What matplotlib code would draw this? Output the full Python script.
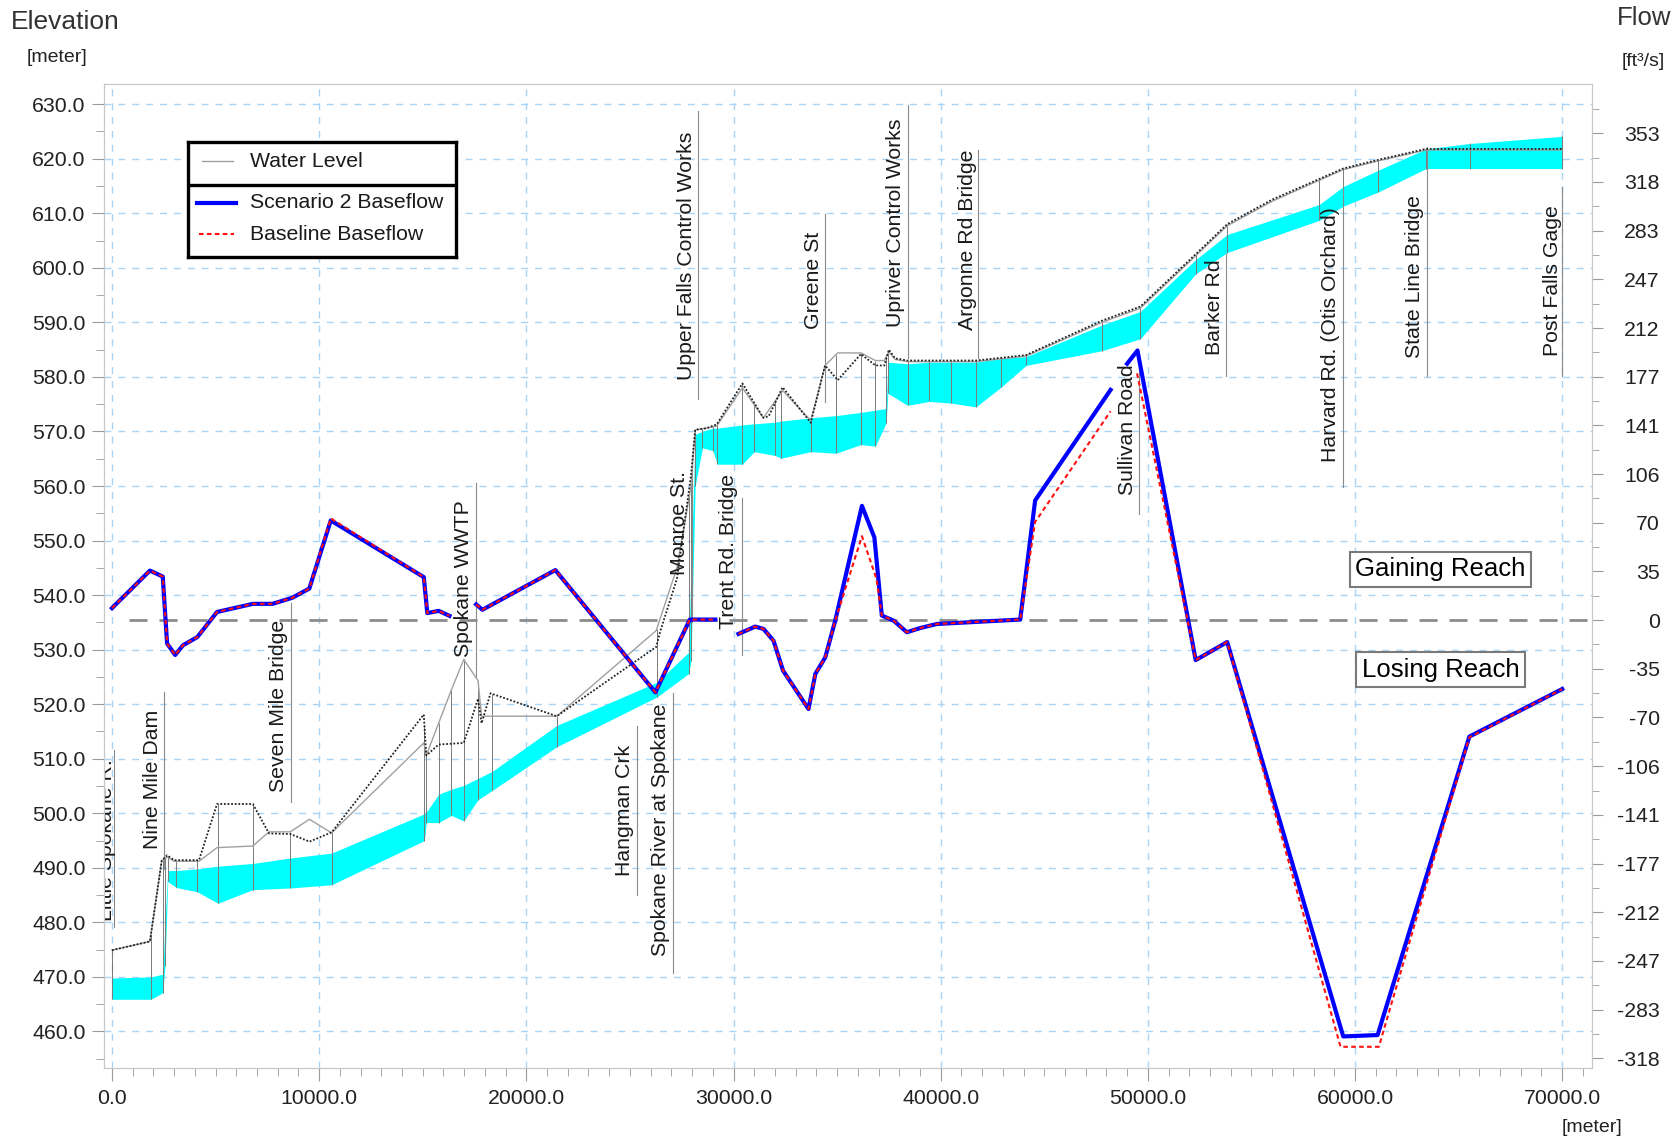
import numpy as np
import matplotlib
matplotlib.use("Agg")
import matplotlib.pyplot as plt
from matplotlib.ticker import MultipleLocator, FixedLocator

plt.rcParams['font.family'] = ['Liberation Sans', 'DejaVu Sans']

# ---- river bed band (cyan) : chainage [m], top / bottom elevation [m]
bed_x = [0, 1880, 2450, 2560, 2690, 3090, 4120, 5110, 6800, 8610, 10600, 15080, 15170,
         15770, 16380, 16980, 17670, 18360, 21470, 26300, 27830, 27950, 28150, 28500,
         29000, 29220, 30430, 31000, 32000, 32300, 33730, 34940, 36150, 36850, 37370,
         37450, 38400, 39450, 40490, 41700, 42910, 44120, 47780, 49640, 52310, 53830,
         58270, 59430, 61120, 63430, 65570, 70000]
bed_top = [469.8, 470.0, 470.5, 480.0, 489.5, 489.5, 489.8, 490.3, 490.8, 491.8, 492.7, 499.9,
           500.2, 503.5, 504.4, 505.1, 506.4, 507.7, 516.1, 524.0, 529.5, 545.0, 569.5, 570.0,
           570.6, 570.6, 571.2, 571.4, 571.7, 571.9, 572.5, 572.9, 573.5, 573.9, 574.2,
           582.7, 582.4, 582.7, 582.7, 582.7, 583.4, 583.7, 589.5, 592.0, 601.5, 606.1,
           611.6, 614.9, 617.9, 621.8, 622.8, 624.1]
bed_bot = [465.9, 465.9, 467.1, 472.0, 487.5, 486.4, 485.6, 483.5, 486.0, 486.3, 486.9, 495.0,
           498.3, 498.3, 499.6, 498.6, 502.5, 504.2, 512.2, 521.3, 525.6, 528.0, 560.0, 567.0,
           566.5, 564.0, 564.0, 566.3, 565.6, 565.1, 566.3, 566.0, 567.6, 567.3, 571.6,
           577.0, 574.8, 575.5, 575.2, 574.5, 578.1, 582.1, 584.8, 587.0, 598.9, 602.8,
           608.7, 611.3, 613.9, 618.2, 618.2, 618.2]

# ---- water level profiles
wl_x = [0, 1830, 2400, 2660, 3000, 4200, 5070, 6800, 7580, 8610, 9530, 10600, 15050, 15170,
        15770, 16980, 17670, 17840, 18270, 21470, 26270, 26460, 27270, 27950, 28150, 28700,
        29190, 30430, 31440, 31700, 32370, 33730, 34420, 35030, 36150, 36850, 37280, 37500,
        37800, 38400, 41700, 44120, 47780, 49640, 52310, 53830, 56000, 59430, 61120, 63430,
        70000]
wl_dotted = [474.9, 476.5, 491.3, 492.3, 491.4, 491.4, 501.7, 501.7, 496.3, 496.2, 494.8, 496.5,
             518.1, 510.6, 512.6, 512.9, 521.0, 516.5, 522.0, 517.8, 530.5, 533.3, 543.0, 562.0,
             570.3, 570.6, 571.3, 578.8, 572.5, 572.8, 578.1, 571.6, 582.1, 579.4, 584.2, 582.1,
             582.1, 585.0, 583.4, 583.0, 583.0, 584.0, 590.3, 592.9, 602.5, 608.0, 612.5, 618.2,
             619.8, 621.8, 621.8]
wl_gray_x = [0, 1830, 2400, 2660, 3000, 4200, 5070, 6800, 7580, 8610, 9530, 10600, 15050, 15170,
             16380, 16980, 17670, 17840, 21470, 26270, 27270, 27950, 28150, 28700, 29190, 30430,
             31440, 32370, 33730, 34420, 35030, 36150, 36850, 37280, 37500, 37800, 38400, 41700,
             44120, 47780, 49640, 52310, 53830, 56000, 59430, 61120, 63430, 70000]
wl_gray = [474.9, 476.5, 491.3, 492.0, 491.2, 491.2, 493.7, 494.0, 496.6, 496.6, 498.9, 496.4,
           512.9, 510.6, 522.6, 528.2, 524.3, 517.8, 517.8, 533.5, 545.0, 560.0, 570.3, 570.6,
           571.0, 578.0, 572.5, 577.5, 572.0, 582.1, 584.4, 584.4, 583.0, 583.0, 584.6, 583.2,
           582.8, 582.8, 583.8, 590.0, 592.6, 602.2, 607.7, 612.2, 618.0, 619.6, 621.6, 621.6]

# ---- baseflow [ft3/s]
s2_x = [0, 1830, 2450, 2660, 3050, 3430, 4120, 5070, 6800, 7750, 8700, 9525, 10560, 15050,
        15220, 15770, 16290, 16900, 17580, 17880, 21400, 26230, 27890, 29120, 29700, 30240,
        31050, 31450, 31930, 32390, 33620, 33950, 34430, 34910, 36200, 36800, 37160, 37730,
        38370, 39020, 39820, 43840, 44560, 48200, 48600, 49000, 49500, 52310, 53830, 59430,
        61090, 65520, 70000]
s2_flow = [8.7, 35.9, 31.6, -17.0, -25.3, -18.2, -12.3, 5.9, 11.8, 11.8, 16.2, 22.9, 72.3, 31.2,
           5.1, 6.7, 3.1, np.nan, 11.4, 7.5, 36.3, -52.4, 0.4, 0.4, np.nan, -10.0,
           -4.7, -6.4, -14.9, -36.6, -64.5, -39.0, -27.0, -0.4, 82.9, 60.0, 3.3, -0.4,
           -8.8, -5.7, -2.8, 0.4, 86.8, 167.0, np.nan, 186.0, 195.6, -29.0, -15.9, -302.0,
           -301.0, -84.5, -50.0]
base_x = [0, 1830, 2450, 2660, 3050, 3430, 4120, 5070, 6800, 7750, 8700, 9525, 10560, 15050,
          15220, 15770, 16290, 16900, 17580, 17880, 21400, 26230, 27890, 29120, 29700, 30240,
          31050, 31450, 31930, 32390, 33620, 33950, 34430, 34910, 36200, 36900, 37160, 37730,
          38370, 39020, 39820, 43840, 44560, 48200, 48800, 49480, 52310, 53830, 59300, 61150,
          65520, 70000]
base_flow = [8.7, 35.9, 31.6, -17.0, -25.3, -18.2, -12.3, 5.9, 11.8, 11.8, 16.2, 22.9, 73.8, 31.2,
             5.1, 6.7, 3.1, np.nan, 11.4, 7.5, 36.3, -52.4, 0.4, 0.4, np.nan, -10.0,
             -4.7, -6.4, -14.9, -36.6, -64.5, -39.0, -27.0, -0.4, 60.9, 30.0, 3.3, -0.4,
             -8.8, -5.7, -2.8, 0.4, 71.2, 151.5, np.nan, 179.0, -29.0, -15.9, -309.5, -309.5,
             -85.0, -50.0]

# ---- landmarks
places = ["Little Spokane R.", "Nine Mile Dam", "Seven Mile Bridge", "Spokane WWTP", "Hangman Crk",
          "Spokane River at Spokane", "Monroe St.", "Upper Falls Control Works", "Trent Rd. Bridge",
          "Greene St", "Upriver Control Works", "Argonne Rd Bridge", "Sullivan Road", "Barker Rd",
          "Harvard Rd. (Otis Orchard)", "State Line Bridge", "Post Falls Gage"]
place_x = [77, 2510, 8640, 17550, 25320, 27060, 27990, 28310, 30390, 34415, 38430, 41800, 49555,
           53790, 59430, 63470, 70000]
place_text_x = [-270, 1960, 8035, 16970, 24755, 26460, 27415, 27745, 29745, 33865, 37830, 41275,
                49020, 53200, 58800, 62860, 69520]
place_text_y = [495.1, 506.3, 519.6, 543.0, 500.5, 497.0, 553.3, 602.2, 548.0, 597.7, 608.2, 605.2,
                570.3, 592.7, 587.8, 598.4, 597.7]
place_top = [511.6, 522.3, 538.5, 560.5, 516.0, 522.0, 563.0, 628.7, 557.8, 609.8, 629.8, 621.6,
             582.8, 602.5, 615.6, 622.1, 614.9]
place_bot = [479.1, 489.8, 502.0, 525.0, 485.0, 470.8, 535.0, 575.9, 529.0, 575.4, 583.5, 583.5,
             554.9, 580.2, 559.8, 580.2, 580.2]

flow_ticks = [-318, -283, -247, -212, -177, -141, -106, -70, -35, 0, 35, 70, 106, 141, 177, 212,
              247, 283, 318, 353]

W, H = 1675, 1138
fig = plt.figure(figsize=(W / 100, H / 100), dpi=100)
ax = fig.add_axes([103.6 / W, 1 - 1068 / H, (1591.5 - 103.6) / W, (1068 - 84) / H])
ax.set_xlim(-405, 71415)
ax.set_ylim(453.3, 633.7)
ax.set_axisbelow(True)
ax.grid(True, which='major', color='#a9d4f6', ls=(0, (5, 5)), lw=1.0)

tick_col = '#9a9a9a'
for s in ax.spines.values():
    s.set_color('#c8c8c8')
ax.xaxis.set_minor_locator(MultipleLocator(1000))
ax.yaxis.set_minor_locator(MultipleLocator(5))
ax.set_xticks(np.arange(0, 70001, 10000))
ax.set_xticklabels([f"{v:.1f}" for v in np.arange(0, 70001, 10000)])
ax.set_yticks(np.arange(460, 631, 10))
ax.set_yticklabels([f"{v:.1f}" for v in np.arange(460, 631, 10)])
ax.tick_params(axis='both', which='major', length=9, color=tick_col, labelsize=15.3,
               labelcolor='#222222', pad=4)
ax.tick_params(axis='both', which='minor', length=6, color=tick_col)
ax.tick_params(axis='x', which='major', pad=6)

# river bed band and section lines
ax.fill_between(bed_x, bed_bot, bed_top, color='#00ffff', lw=0, zorder=2)
wl_hi = np.maximum(np.interp(bed_x, wl_x, wl_dotted), np.interp(bed_x, wl_gray_x, wl_gray))
ax.vlines(bed_x, bed_bot, np.maximum(wl_hi, bed_top), color='#7a7a7a', lw=0.7, zorder=3)

# water levels
ax.plot(wl_gray_x, wl_gray, color='#a0a0a0', lw=1.0, zorder=4)
ax.plot(wl_x, wl_dotted, color='#222222', lw=1.3, ls=(0, (1, 1)), zorder=5)

# landmarks
for name, lx, tx, ty, t0, t1 in zip(places, place_x, place_text_x, place_text_y, place_top, place_bot):
    ax.plot([lx, lx], [t1, t0], color='#8a8a8a', lw=0.8, zorder=3)
    ax.text(tx, ty, name, rotation=90, ha='center', va='center', fontsize=15.3,
            color='#1a1a1a', zorder=6, clip_on=True)

box = dict(boxstyle='square,pad=0.22', fc='white', ec='#7a7a7a', lw=1.5)
ax.text(64124, 544.7, "Gaining Reach", fontsize=18.5, ha='center', va='center', bbox=box, zorder=7)
ax.text(64124, 526.3, "Losing Reach", fontsize=18.5, ha='center', va='center', bbox=box, zorder=7)

# flow axis
ax2 = ax.twinx()
ax2.set_ylim(-324.9, 388.9)
for s in ax2.spines.values():
    s.set_color('#c8c8c8')
ax2.yaxis.set_major_locator(FixedLocator([k * 35.3147 for k in range(-9, 11)]))
ax2.yaxis.set_minor_locator(FixedLocator([(k + 0.5) * 35.3147 for k in range(-10, 11)]))
ax2.set_yticklabels([str(t) for t in flow_ticks])
ax2.tick_params(axis='y', which='major', length=8, color=tick_col, labelsize=15.3,
                labelcolor='#222222', pad=41)
ax2.tick_params(axis='y', which='minor', length=5, color=tick_col)
for lbl in ax2.get_yticklabels():
    lbl.set_horizontalalignment('right')

ax2.plot([800, 71415], [0, 0], color='#8c8c8c', lw=2.0, ls=(0, (6.5, 4.3)), zorder=1)
ax2.plot(s2_x, s2_flow, color='#0000ff', lw=3.0, zorder=3)
ax2.plot(base_x, base_flow, color='#ff1010', lw=1.5, ls=(0, (2.2, 1.6)), zorder=4)

# axis titles
fig.text(10.7 / W, 1 - 22 / H, "Elevation", fontsize=19, ha='left', va='center', color='#333333')
fig.text(57 / W, 1 - 57 / H, "[meter]", fontsize=14, ha='center', va='center', color='#222222')
fig.text(1644 / W, 1 - 18 / H, "Flow", fontsize=18.5, ha='center', va='center', color='#333333')
fig.text(1643 / W, 1 - 62 / H, "[ft³/s]", fontsize=14, ha='center', va='center', color='#222222')
fig.text(1592 / W, 1 - 1128 / H, "[meter]", fontsize=14, ha='center', va='center', color='#222222')

# legend
lx0, ly0, lx1, ly1 = 188, 142, 456, 256.5
lax = fig.add_axes([lx0 / W, 1 - ly1 / H, (lx1 - lx0) / W, (ly1 - ly0) / H])
lax.set_xlim(0, lx1 - lx0)
lax.set_ylim(ly1 - ly0, 0)
lax.set_xticks([])
lax.set_yticks([])
for s in lax.spines.values():
    s.set_linewidth(2.4)
    s.set_color('black')
lax.axhline(184.8 - ly0, color='black', lw=2.4)
lax.plot([14, 45], [161.3 - ly0] * 2, color='#a0a0a0', lw=1.0)
lax.plot([9, 48], [203 - ly0] * 2, color='#0000ff', lw=3.0)
lax.plot([11, 46], [234 - ly0] * 2, color='#ff1010', lw=1.5, ls=(0, (2.2, 1.6)))
lax.text(62, 161.3 - ly0, "Water Level", fontsize=15.3, va='center', ha='left', color='#1a1a1a')
lax.text(62, 203 - ly0, "Scenario 2 Baseflow", fontsize=15.3, va='center', ha='left', color='#1a1a1a')
lax.text(62, 234 - ly0, "Baseline Baseflow", fontsize=15.3, va='center', ha='left', color='#1a1a1a')

fig.savefig("out.png", dpi=100)
